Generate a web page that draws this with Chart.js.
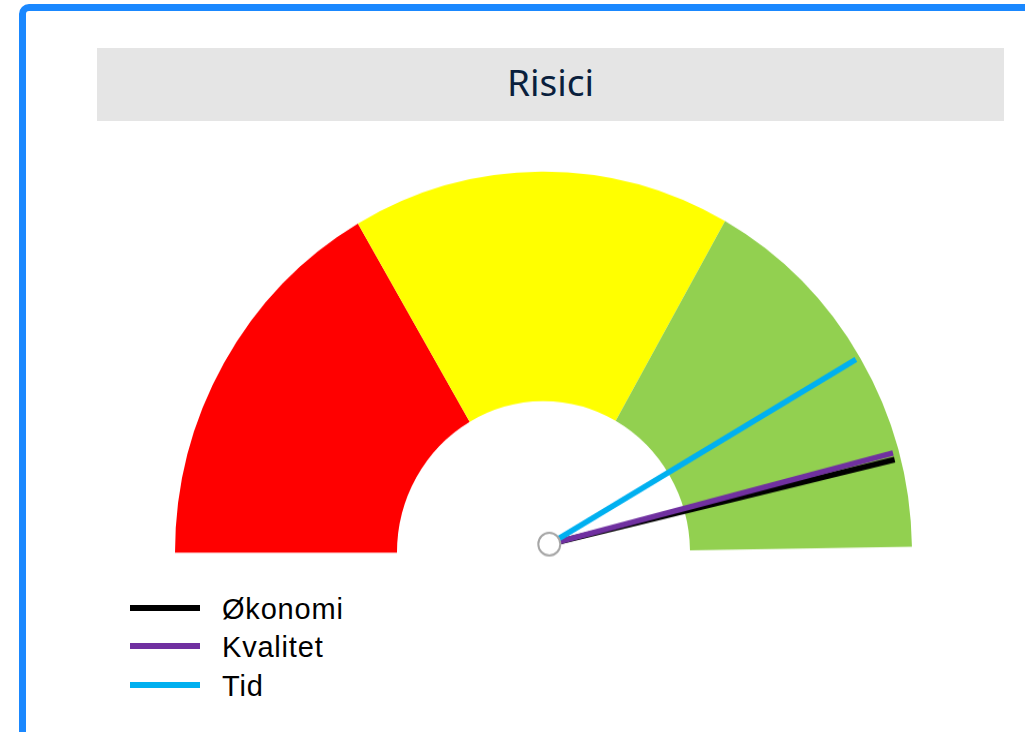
<!DOCTYPE html>
<html>
<head>
<meta charset="utf-8">
<script src="https://cdn.jsdelivr.net/npm/chart.js@4.4.1/dist/chart.umd.min.js"></script>
<style>
  html, body { margin:0; padding:0; background:#ffffff; width:1025px; height:732px; overflow:hidden; }
  #frame { position:absolute; left:19px; top:4px; width:1100px; height:800px; box-sizing:border-box;
           border:7px solid #1a88ff; border-top-left-radius:10px; }
  #title { position:absolute; left:97px; top:48px; width:907px; height:73px; background:#e5e5e5;
           display:flex; align-items:center; justify-content:center;
           font-family:"Noto Sans", "Open Sans", sans-serif; font-size:37px; font-weight:400; color:#0a1f3d; padding-bottom:6px; box-sizing:border-box; }
  #gaugeWrap { position:absolute; left:143px; top:145.3px; width:801px; height:420px;
               transform:scaleY(1.034); transform-origin:0 0; }
  #legend { position:absolute; left:130px; top:589.5px; font-family:"Liberation Sans", Arial, sans-serif; font-size:29px; letter-spacing:0.8px; color:#000; }
  .row { height:38.5px; display:flex; align-items:center; }
  .swatch { width:70px; height:6px; margin-right:22px; margin-top:-2px; }
  .label { line-height:38.5px; white-space:nowrap; }
</style>
</head>
<body>
<div id="frame"></div>
<div id="title">Risici</div>
<div id="gaugeWrap"><canvas id="gauge" width="801" height="420" style="width:801px;height:420px"></canvas></div>
<div id="legend"></div>
<script>
// ---- data ----
const chartTitle = "Risici";
const bandLabels = ["Høj", "Middel", "Lav", ""];
const bandValues = [33.2, 33.2, 33.1, 0.5];
const bandColors = ["#ff0000", "#ffff00", "#92d050", "rgba(0,0,0,0)"];
const gaugeMax = 100;
const needleNames = ["Økonomi", "Kvalitet", "Tid"];
const needleValues = [92.6, 92.0, 83.2];
const needleColors = ["#000000", "#7030a0", "#00b0f0"];

// ---- styles ----
const needleWidth = 5.5;
const needleLengthRatio = 0.963;
const pivotOffset = { x: 5.8, y: -8.2 };
const pivotRadius = 11;

document.getElementById('title').textContent = chartTitle;

const needlePlugin = {
  id: 'needles',
  afterDatasetsDraw(chart) {
    const meta = chart.getDatasetMeta(0);
    const first = meta.data[0];
    const p = first.getProps(['x', 'y', 'outerRadius', 'startAngle'], true);
    const sweep = chart.options.circumference * Math.PI / 180;
    const px = p.x + pivotOffset.x, py = p.y + pivotOffset.y;
    const len = p.outerRadius * needleLengthRatio;
    const ctx = chart.ctx;
    ctx.save();
    needleValues.forEach((v, i) => {
      const a = p.startAngle + (v / gaugeMax) * sweep;
      ctx.beginPath();
      ctx.moveTo(px, py);
      ctx.lineTo(px + len * Math.cos(a), py + len * Math.sin(a));
      ctx.strokeStyle = needleColors[i];
      ctx.lineWidth = needleWidth;
      ctx.lineCap = 'butt';
      ctx.stroke();
    });
    ctx.beginPath();
    ctx.arc(px, py, pivotRadius, 0, Math.PI * 2);
    ctx.fillStyle = '#ffffff';
    ctx.fill();
    ctx.lineWidth = 2;
    ctx.strokeStyle = '#a6a6a6';
    ctx.stroke();
    ctx.restore();
  }
};

new Chart(document.getElementById('gauge'), {
  type: 'doughnut',
  data: {
    labels: bandLabels,
    datasets: [{
      data: bandValues,
      backgroundColor: bandColors,
      borderWidth: 0,
      hoverOffset: 0
    }]
  },
  options: {
    responsive: false,
    animation: false,
    rotation: -90,
    circumference: 180,
    radius: 368.5,
    cutout: '39.76%',
    layout: { padding: 0 },
    plugins: {
      legend: { display: false },
      tooltip: { enabled: false },
      title: { display: false }
    },
    events: []
  },
  plugins: [needlePlugin]
});

// legend (HTML)
const legend = document.getElementById('legend');
needleNames.forEach((name, i) => {
  const row = document.createElement('div');
  row.className = 'row';
  const sw = document.createElement('div');
  sw.className = 'swatch';
  sw.style.background = needleColors[i];
  const lb = document.createElement('span');
  lb.className = 'label';
  lb.textContent = name;
  row.appendChild(sw);
  row.appendChild(lb);
  legend.appendChild(row);
});
</script>
</body>
</html>
